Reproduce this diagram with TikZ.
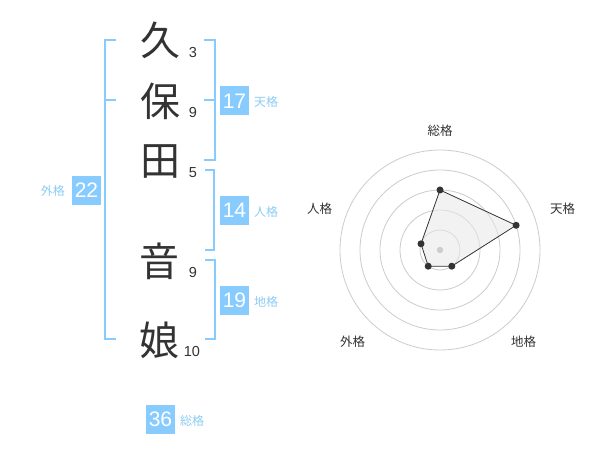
\documentclass[tikz,border=0pt]{standalone}
\usepackage{fontspec}
\setmainfont{Liberation Sans}
\newfontfamily\jp{Noto Sans CJK JP}
\definecolor{sky}{RGB}{136,204,255}
\definecolor{skytext}{RGB}{140,205,245}
\definecolor{ink}{RGB}{51,51,51}
\definecolor{ring}{RGB}{204,204,204}
\definecolor{polyfill}{RGB}{232,232,232}
\tikzset{
  kanji/.style={inner sep=0pt, text=ink, font=\jp\fontsize{40}{42}\selectfont},
  stroke/.style={inner sep=0pt, text=ink, font=\fontsize{14.5}{16}\selectfont},
  numbox/.style={fill=sky, text=white, minimum width=29pt, minimum height=29pt, inner sep=0pt, font=\fontsize{21}{22}\selectfont},
  kaku/.style={inner sep=0pt, text=skytext, font=\jp\fontsize{12}{14}\selectfont},
  brk/.style={draw=sky, line width=2pt},
  radarlabel/.style={inner sep=0pt, text=ink, font=\jp\fontsize{12.5}{14}\selectfont},
  ringline/.style={draw=ring, line width=0.8pt},
  dot/.style={circle, fill=ink, inner sep=0pt, minimum size=7pt},
}
\begin{document}
\begin{tikzpicture}[x=1pt, y=-1pt]
\useasboundingbox (0,0) rectangle (600,470);
\fill[white] (0,0) rectangle (600,470);
% characters
\node[kanji] (k1) at (160,40) {久};
\node[kanji] (k2) at (160,101) {保};
\node[kanji] (k3) at (160,162) {田};
\node[kanji] (k4) at (159,261) {音};
\node[kanji] (k5) at (159,340) {娘};
% strokes
\node[stroke] (s1) at (193,53) {3};
\node[stroke] (s2) at (193,113) {9};
\node[stroke] (s3) at (193,173) {5};
\node[stroke] (s4) at (193,272.5) {9};
\node[stroke] (s5) at (192,352) {10};
% brackets
\draw[brk] (116,40) -- (105,40) -- (105,339) -- (116,339);
\draw[brk] (105,100) -- (116,100);
\draw[brk] (204,40) -- (215,40) -- (215,160) -- (204,160);
\draw[brk] (204,100) -- (215,100);
\draw[brk] (205,170) -- (214,170) -- (214,250) -- (205,250);
\draw[brk] (205,260) -- (215,260) -- (215,339) -- (205,339);
% boxes
\node[numbox] (ten) at (234.5,101) {17};
\node[kaku, anchor=west] (tenl) at (254,102) {天格};
\node[numbox] (jin) at (234.5,210.5) {14};
\node[kaku, anchor=west] (jinl) at (254,212) {人格};
\node[numbox] (chi) at (234.5,300.5) {19};
\node[kaku, anchor=west] (chil) at (254,302) {地格};
\node[numbox] (gai) at (86.5,190.5) {22};
\node[kaku, anchor=east] (gail) at (65,191) {外格};
\node[numbox] (sou) at (160.5,419.5) {36};
\node[kaku, anchor=west] (soul) at (180,421) {総格};
% radar
\coordinate (c) at (440,250);
\foreach \r in {20,40,60,80,100} \draw[ringline] (c) circle (\r pt);
\coordinate (p1) at (440,190);
\coordinate (p2) at (516.1,225.3);
\coordinate (p3) at (451.8,266.2);
\coordinate (p4) at (428.2,266.2);
\coordinate (p5) at (421.0,243.8);
\fill[polyfill, fill opacity=0.55] (p1) -- (p2) -- (p3) -- (p4) -- (p5) -- cycle;
\draw[draw=ink, line width=0.8pt] (p1) -- (p2) -- (p3) -- (p4) -- (p5) -- cycle;
\fill[ring] (c) circle (3.2pt);
\foreach \p in {p1,p2,p3,p4,p5} \node[dot] at (\p) {};
\node[radarlabel] (l1) at (440,130.5) {総格};
\node[radarlabel] (l2) at (562.5,208.5) {天格};
\node[radarlabel] (l3) at (523.5,342) {地格};
\node[radarlabel] (l4) at (352.5,342) {外格};
\node[radarlabel] (l5) at (319.5,208.5) {人格};
\end{tikzpicture}
\end{document}
